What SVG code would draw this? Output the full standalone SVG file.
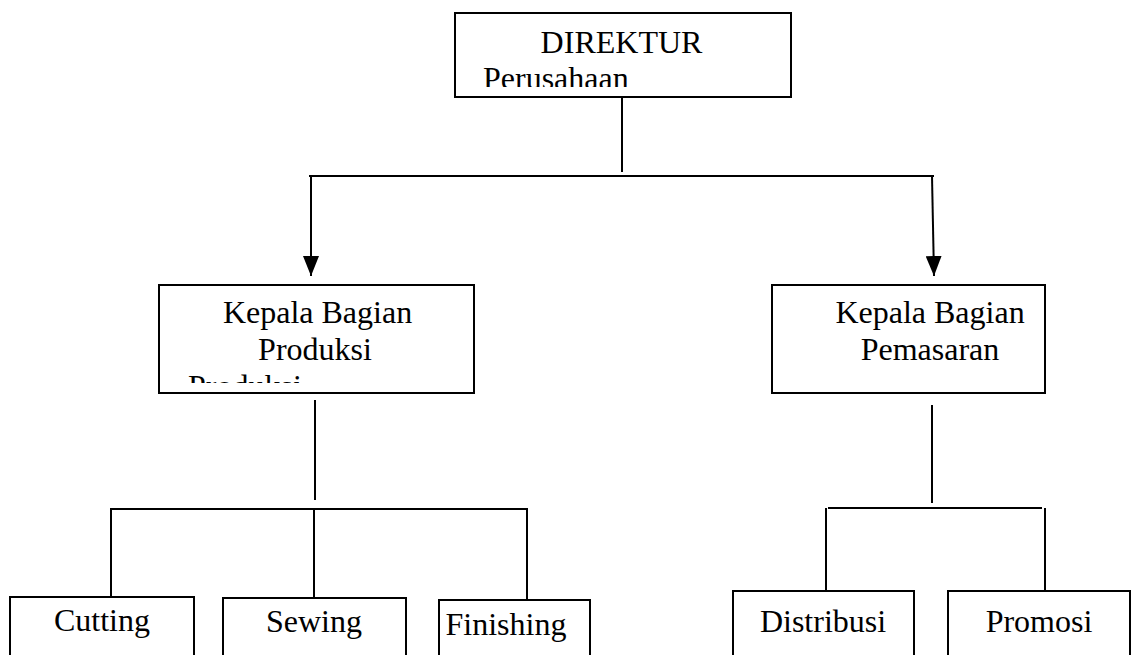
<svg xmlns="http://www.w3.org/2000/svg" width="1132" height="655" viewBox="0 0 1132 655">
  <style>
    .box { fill: #ffffff; stroke: #000000; stroke-width: 2; }
    .line { fill: none; stroke: #000000; stroke-width: 2; }
    .label { font-family: 'Liberation Serif', 'Times New Roman', 'DejaVu Serif', serif; font-size: 32px; fill: #000000; }
  </style>
  <defs>
    <marker id="arrow" markerWidth="20" markerHeight="16" refX="20" refY="8" orient="auto" markerUnits="userSpaceOnUse" viewBox="0 0 20 16">
      <path d="M0,0 L20,8 L0,16 Z" fill="#000000"/>
    </marker>
    <clipPath id="clip-direktur"><rect x="456" y="14" width="334" height="73"/></clipPath>
    <clipPath id="clip-produksi"><rect x="160" y="286" width="313" height="97"/></clipPath>
  </defs>
  <rect width="1132" height="655" fill="#ffffff"/>

  <!-- connectors -->
  <g id="connectors">
    <line class="line" x1="622" y1="97" x2="622" y2="172"/>
    <line class="line" x1="309" y1="176" x2="934" y2="176"/>
    <line class="line" x1="311" y1="176" x2="311" y2="276" marker-end="url(#arrow)"/>
    <line class="line" x1="932" y1="176" x2="934" y2="276" marker-end="url(#arrow)"/>

    <line class="line" x1="315" y1="400" x2="315" y2="500"/>
    <line class="line" x1="110" y1="509" x2="528" y2="509"/>
    <line class="line" x1="111" y1="509" x2="111" y2="597"/>
    <line class="line" x1="314" y1="509" x2="314" y2="598"/>
    <line class="line" x1="527" y1="509" x2="527" y2="600"/>

    <line class="line" x1="932" y1="405" x2="932" y2="503"/>
    <line class="line" x1="828" y1="508" x2="1042" y2="508"/>
    <line class="line" x1="826" y1="508" x2="826" y2="591"/>
    <line class="line" x1="1045" y1="508" x2="1045" y2="591"/>
  </g>

  <g id="direktur">
    <rect class="box" x="455" y="13" width="336" height="84"/>
    <g clip-path="url(#clip-direktur)">
      <text class="label" x="621.5" y="53" text-anchor="middle">DIREKTUR</text>
      <text class="label" x="483" y="89">Perusahaan</text>
    </g>
  </g>

  <g id="kabag-produksi">
    <rect class="box" x="159" y="285" width="315" height="108"/>
    <g clip-path="url(#clip-produksi)">
      <text class="label" x="317.5" y="323" text-anchor="middle">Kepala Bagian</text>
      <text class="label" x="315" y="360" text-anchor="middle">Produksi</text>
      <text class="label" x="188" y="397">Produksi</text>
    </g>
  </g>

  <g id="kabag-pemasaran">
    <rect class="box" x="772" y="285" width="273" height="108"/>
    <text class="label" x="930" y="323" text-anchor="middle">Kepala Bagian</text>
    <text class="label" x="930" y="360" text-anchor="middle">Pemasaran</text>
  </g>

  <g id="cutting">
    <rect class="box" x="10" y="597" width="184" height="70"/>
    <text class="label" x="102" y="631" text-anchor="middle">Cutting</text>
  </g>
  <g id="sewing">
    <rect class="box" x="223" y="598" width="183" height="70"/>
    <text class="label" x="314" y="632" text-anchor="middle">Sewing</text>
  </g>
  <g id="finishing">
    <rect class="box" x="439" y="600" width="151" height="70"/>
    <text class="label" x="506" y="635" text-anchor="middle">Finishing</text>
  </g>
  <g id="distribusi">
    <rect class="box" x="733" y="591" width="181" height="80"/>
    <text class="label" x="823" y="632" text-anchor="middle">Distribusi</text>
  </g>
  <g id="promosi">
    <rect class="box" x="948" y="591" width="182" height="80"/>
    <text class="label" x="1039" y="632" text-anchor="middle">Promosi</text>
  </g>
</svg>
